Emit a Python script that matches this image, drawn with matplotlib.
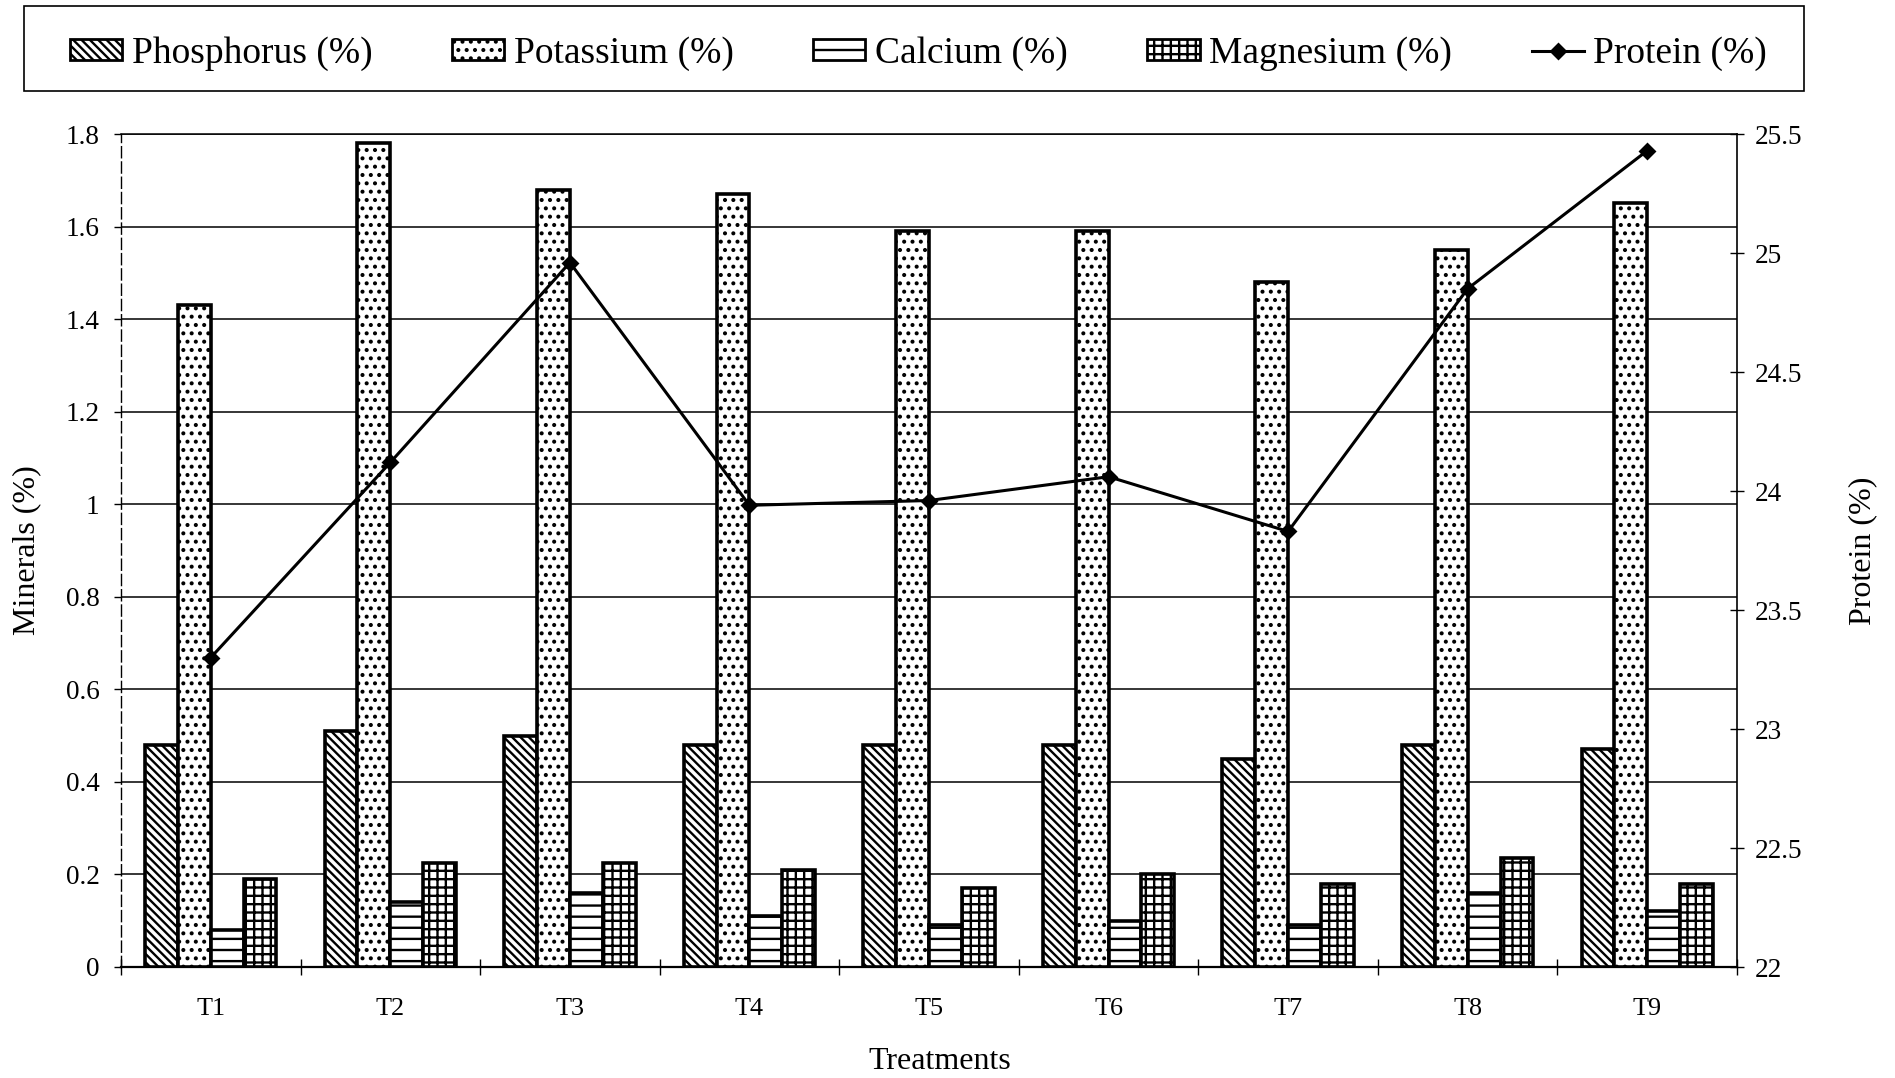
import matplotlib
matplotlib.use("Agg")
import matplotlib.pyplot as plt
import numpy as np
from matplotlib.patches import Patch, Rectangle
from matplotlib.lines import Line2D

treatments = ["T1", "T2", "T3", "T4", "T5", "T6", "T7", "T8", "T9"]
phosphorus = [0.48, 0.51, 0.50, 0.48, 0.48, 0.48, 0.45, 0.48, 0.47]
potassium = [1.43, 1.78, 1.68, 1.67, 1.59, 1.59, 1.48, 1.55, 1.65]
calcium = [0.08, 0.14, 0.16, 0.11, 0.09, 0.10, 0.09, 0.16, 0.12]
magnesium = [0.19, 0.225, 0.225, 0.21, 0.17, 0.20, 0.18, 0.235, 0.18]
protein = [23.30, 24.12, 24.96, 23.94, 23.96, 24.06, 23.83, 24.85, 25.43]

left_ticks = [0, 0.2, 0.4, 0.6, 0.8, 1.0, 1.2, 1.4, 1.6, 1.8]
left_labels = ["0", "0.2", "0.4", "0.6", "0.8", "1", "1.2", "1.4", "1.6", "1.8"]
right_ticks = [22, 22.5, 23, 23.5, 24, 24.5, 25, 25.5]
right_labels = ["22", "22.5", "23", "23.5", "24", "24.5", "25", "25.5"]

plt.rcParams['font.family'] = ['Liberation Serif', 'DejaVu Serif']
plt.rcParams['hatch.linewidth'] = 0.85
plt.rcParams['hatch.color'] = 'black'

DPI = 200
fig = plt.figure(figsize=(1895 / DPI, 1078 / DPI), dpi=DPI)
ax = fig.add_axes([121 / 1895, 1 - 967 / 1078, (1737 - 121) / 1895, (967 - 134) / 1078])

x = np.arange(len(treatments))
w = 0.183
series = [
    (phosphorus, '\\' * 8, "Phosphorus (%)"),
    (potassium, '....', "Potassium (%)"),
    (calcium, '---', "Calcium (%)"),
    (magnesium, '++++', "Magnesium (%)"),
]
for i, (vals, hatch, lab) in enumerate(series):
    ax.bar(x + (i - 1.5) * w, vals, width=w, facecolor='white', edgecolor='black',
           hatch=hatch, linewidth=1.3, zorder=3)

ax.set_xlim(-0.5, len(treatments) - 0.5)
ax.set_ylim(0, 1.8)
ax.set_yticks(left_ticks)
ax.set_yticklabels(left_labels)
ax.yaxis.grid(True, color='black', linewidth=0.55, zorder=0)
ax.set_axisbelow(True)
ax.tick_params(axis='y', direction='out', length=2.5, width=0.5, labelsize=9.8, pad=5.2)

ax.set_xticks(np.arange(-0.5, len(treatments), 1.0))
ax.set_xticklabels([])
ax.set_xticks(x, minor=True)
ax.set_xticklabels(treatments, minor=True)
ax.tick_params(axis='x', which='major', direction='inout', length=6, width=0.5)
ax.tick_params(axis='x', which='minor', length=0, labelsize=9.4, pad=11)

ax.spines['top'].set_linewidth(0.55)
ax.spines['left'].set_linewidth(0.5)
ax.spines['left'].set_linestyle((0, (8, 3)))
ax.spines['bottom'].set_linewidth(0.8)
ax.spines['right'].set_linewidth(0.6)

ax.set_ylabel("Minerals (%)", fontsize=11.5)
ax.yaxis.set_label_coords(-0.0495, 0.5)
ax.set_xlabel("Treatments", fontsize=11.5)
ax.xaxis.set_label_coords(0.507, -0.096)

ax2 = ax.twinx()
ax2.plot(x, protein, color='black', linewidth=1.1, marker='D', markersize=3.8, zorder=5)
ax2.set_ylim(22, 25.5)
ax2.set_yticks(right_ticks)
ax2.set_yticklabels(right_labels)
ax2.tick_params(axis='y', direction='inout', length=5, width=0.5, labelsize=9.8, pad=4.0)
ax2.set_ylabel("Protein (%)", fontsize=11.5)
ax2.yaxis.set_label_coords(1.069, 0.5)
for s in ax2.spines.values():
    s.set_visible(False)

# legend frame
fig.patches.append(Rectangle((24 / 1895, 1 - 91 / 1078), (1804 - 24) / 1895, 85 / 1078,
                             transform=fig.transFigure, facecolor='none',
                             edgecolor='black', linewidth=0.6))

handles = [Patch(facecolor='white', edgecolor='black', hatch=h, linewidth=1.0, label=l)
           for _, h, l in series]
handles.append(Line2D([], [], color='black', linewidth=1.1, marker='D', markersize=3.8,
                      label="Protein (%)"))
leg = fig.legend(handles=handles, loc='center', ncol=5, mode='expand',
                 bbox_to_anchor=(70 / 1895, 1 - 96 / 1078, (1767 - 70) / 1895, 85 / 1078),
                 fontsize=13.5, frameon=False,
                 handlelength=1.39, handleheight=0.48, handletextpad=0.25,
                 borderpad=0.0, borderaxespad=0)

fig.savefig("out.png", dpi=DPI, facecolor='white')
